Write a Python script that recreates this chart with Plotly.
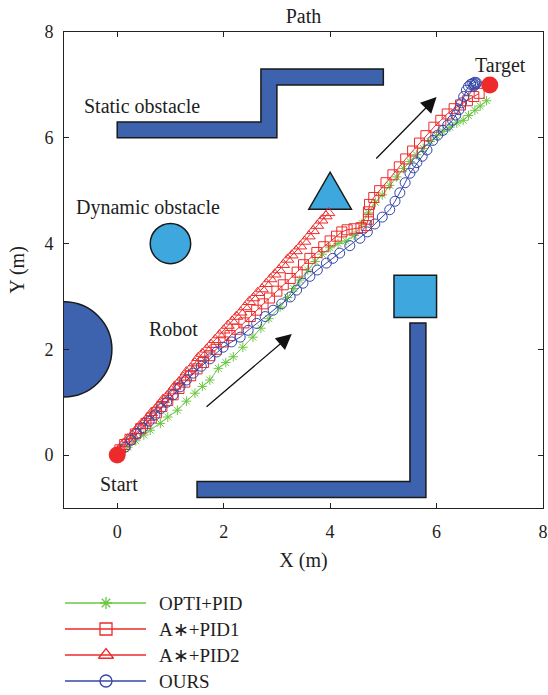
import plotly.graph_objects as go

# ---- trajectories -------------------------------------------------------
opti_x = [0.08, 0.2, 0.35, 0.5, 0.62, 0.81, 0.95, 1.13, 1.3, 1.46, 1.6, 1.74, 1.9,
          2.04, 2.18, 2.36, 2.55, 2.7, 2.85, 3.06, 3.2, 3.32, 3.43, 3.58, 3.72, 3.85,
          4.0, 4.15, 4.3, 4.45, 4.6, 4.72, 4.85, 4.98, 5.12, 5.25, 5.38, 5.5, 5.62,
          5.75, 5.88, 6.0, 6.12, 6.25, 6.38, 6.5, 6.6, 6.72, 6.82, 6.94]
opti_y = [0.05, 0.15, 0.27, 0.38, 0.47, 0.6, 0.72, 0.85, 1.02, 1.17, 1.3, 1.42, 1.64,
          1.75, 1.86, 2.04, 2.23, 2.4, 2.58, 2.8, 2.98, 3.15, 3.31, 3.5, 3.66, 3.8,
          3.92, 4.0, 4.05, 4.15, 4.38, 4.58, 4.78, 4.92, 5.1, 5.26, 5.42, 5.55, 5.68,
          5.8, 5.93, 6.04, 6.12, 6.2, 6.28, 6.33, 6.42, 6.52, 6.6, 6.7]

pid1_x = [0.05, 0.14, 0.24, 0.34, 0.44, 0.54, 0.64, 0.74, 0.84, 0.95, 1.05, 1.16,
          1.27, 1.38, 1.5, 1.62, 1.74, 1.86, 2.0, 2.12, 2.25, 2.38, 2.5, 2.62, 2.74,
          2.86, 3.0, 3.12, 3.25, 3.38, 3.5, 3.62, 3.75, 3.88, 4.0, 4.12, 4.22, 4.32,
          4.45, 4.58, 4.68, 4.72, 4.72, 4.74, 4.82, 4.93, 5.05, 5.18, 5.3, 5.42, 5.55,
          5.68, 5.8, 5.95, 6.08, 6.2, 6.33, 6.45, 6.58, 6.7, 6.8]
pid1_y = [0.1, 0.2, 0.3, 0.4, 0.5, 0.6, 0.7, 0.8, 0.92, 1.03, 1.14, 1.26, 1.38,
          1.5, 1.63, 1.75, 1.88, 2.0, 2.14, 2.26, 2.38, 2.5, 2.62, 2.74, 2.86,
          2.97, 3.1, 3.22, 3.34, 3.46, 3.6, 3.72, 3.83, 3.94, 4.05, 4.14, 4.22, 4.26,
          4.28, 4.3, 4.34, 4.46, 4.6, 4.74, 4.87, 5.0, 5.15, 5.3, 5.45, 5.6, 5.75,
          5.9, 6.04, 6.2, 6.33, 6.45, 6.55, 6.62, 6.7, 6.78, 6.84]

pid2_x = [0.05, 0.12, 0.2, 0.28, 0.35, 0.42, 0.5, 0.58, 0.64, 0.72, 0.8, 0.86, 0.94,
          1.02, 1.08, 1.16, 1.24, 1.3, 1.38, 1.46, 1.52, 1.6, 1.68, 1.76, 1.84, 1.92,
          2.0, 2.08, 2.16, 2.24, 2.32, 2.4, 2.48, 2.56, 2.64, 2.72, 2.8, 2.88, 2.96,
          3.04, 3.12, 3.2, 3.28, 3.36, 3.44, 3.52, 3.6, 3.68, 3.76, 3.84, 3.92, 3.97]
pid2_y = [0.12, 0.22, 0.3, 0.37, 0.46, 0.55, 0.62, 0.71, 0.8, 0.87, 0.96, 1.05, 1.12,
          1.21, 1.3, 1.38, 1.47, 1.57, 1.64, 1.74, 1.84, 1.92, 2.0, 2.09, 2.18, 2.27,
          2.36, 2.45, 2.53, 2.62, 2.7, 2.8, 2.9, 2.97, 3.07, 3.14, 3.24, 3.33, 3.42,
          3.5, 3.6, 3.7, 3.78, 3.86, 3.95, 4.04, 4.14, 4.24, 4.34, 4.44, 4.52, 4.58]

ours_x = [0.15, 0.26, 0.37, 0.48, 0.6, 0.71, 0.82, 0.93, 1.05, 1.18, 1.3, 1.43, 1.58,
          1.74, 1.87, 1.99, 2.15, 2.31, 2.46, 2.62, 2.78, 2.93, 3.09, 3.25, 3.37, 3.49,
          3.62, 3.76, 3.93, 4.05, 4.18, 4.37, 4.56, 4.7, 4.84, 4.98, 5.12, 5.22, 5.31,
          5.41, 5.5, 5.57, 5.63, 5.73, 5.82, 5.93, 6.02, 6.12, 6.21, 6.3, 6.36, 6.42,
          6.47, 6.51, 6.56, 6.6, 6.64, 6.68, 6.72, 6.75, 6.72, 6.7, 6.74]
ours_y = [0.15, 0.28, 0.41, 0.52, 0.64, 0.76, 0.88, 1.0, 1.14, 1.29, 1.42, 1.55, 1.68,
          1.82, 1.95, 2.04, 2.14, 2.23, 2.36, 2.49, 2.62, 2.74, 2.86, 2.99, 3.12, 3.25,
          3.38, 3.5, 3.63, 3.72, 3.82, 3.96, 4.1, 4.22, 4.37, 4.5, 4.64, 4.8, 4.96,
          5.15, 5.33, 5.43, 5.53, 5.65, 5.77, 5.95, 6.05, 6.14, 6.24, 6.33, 6.43, 6.53,
          6.66, 6.78, 6.9, 6.97, 7.01, 7.03, 7.05, 7.04, 7.0, 6.98, 7.02]

series_names = ["OPTI+PID", "A\u2217+PID1", "A\u2217+PID2", "OURS"]
series_x = [opti_x, pid1_x, pid2_x, ours_x]
series_y = [opti_y, pid1_y, pid2_y, ours_y]
series_colors = ["#6CC644", "#EE2A2A", "#EE2A2A", "#3446A8"]
series_symbols = ["asterisk-open", "square-open", "triangle-up-open", "circle-open"]
series_sizes = [8, 10, 11, 10]

# ---- environment --------------------------------------------------------
start_pt = (0, 0)
target_pt = (7, 7)
static_z = [(0, 6.0), (3.0, 6.0), (3.0, 7.0), (5.0, 7.0), (5.0, 7.3), (2.7, 7.3),
            (2.7, 6.3), (0, 6.3)]
static_l = [(1.5, -0.8), (5.8, -0.8), (5.8, 2.5), (5.5, 2.5), (5.5, -0.5), (1.5, -0.5)]
dyn_triangle = [(3.6, 4.65), (4.4, 4.65), (4.0, 5.35)]
dyn_square = [(5.2, 2.6), (6.0, 2.6), (6.0, 3.4), (5.2, 3.4)]
dyn_circle = (1.0, 4.0, 0.38)
robot_circle = (-1.0, 2.0, 0.9)

axis_ticks = [0, 2, 4, 6, 8]

DARK = "#3D62AE"
LIGHT = "#3EA7DD"
FONT = "Liberation Serif"
INK = "#1E1E1E"


def poly_path(pts):
    return "M " + " L ".join(f"{x},{y}" for x, y in pts) + " Z"


fig = go.Figure()

for name, xs, ys, col, sym, sz in zip(series_names, series_x, series_y,
                                       series_colors, series_symbols, series_sizes):
    fig.add_trace(go.Scatter(
        x=xs, y=ys, mode="lines+markers", name=name, showlegend=False,
        line=dict(color=col, width=1),
        marker=dict(symbol=sym, size=sz, color=col, line=dict(color=col, width=1)),
        xaxis="x", yaxis="y"))

fig.add_trace(go.Scatter(
    x=[start_pt[0], target_pt[0]], y=[start_pt[1], target_pt[1]], mode="markers",
    showlegend=False, marker=dict(size=17, color="#EE2A2A"), cliponaxis=False,
    xaxis="x", yaxis="y"))

shapes = []
for pts, col in [(static_z, DARK), (static_l, DARK), (dyn_triangle, LIGHT),
                 (dyn_square, LIGHT)]:
    shapes.append(dict(type="path", path=poly_path(pts), xref="x", yref="y",
                       fillcolor=col, line=dict(color="#1A1A1A", width=1.5),
                       layer="below"))
for (cx, cy, r), col in [(dyn_circle, LIGHT), (robot_circle, DARK)]:
    shapes.append(dict(type="circle", xref="x", yref="y", x0=cx - r, x1=cx + r,
                       y0=cy - r, y1=cy + r, fillcolor=col,
                       line=dict(color="#1A1A1A", width=1.5), layer="below"))

annotations = []
labels = [("Static obstacle", 0.47, 6.6), ("Dynamic obstacle", 0.58, 4.69),
          ("Robot", 1.05, 2.38), ("Start", 0.04, -0.55), ("Target", 7.2, 7.37)]
for txt, x, y in labels:
    annotations.append(dict(text=txt, x=x, y=y, xref="x", yref="y", showarrow=False,
                            font=dict(family=FONT, size=20, color=INK)))

arrows = [((1.65, 0.89), (3.28, 2.29)), ((4.84, 5.58), (6.0, 6.77))]
for (x0, y0), (x1, y1) in arrows:
    annotations.append(dict(x=x1, y=y1, ax=x0, ay=y0, xref="x", yref="y",
                            axref="x", ayref="y", text="", showarrow=True,
                            arrowhead=2, arrowsize=2.4, arrowwidth=1.3,
                            arrowcolor="#111"))

# ---- legend drawn on its own hidden axes ----------------------------------
for i, (name, col, sym, sz) in enumerate(zip(series_names, series_colors,
                                             series_symbols, series_sizes)):
    row = -i
    fig.add_trace(go.Scatter(x=[65, 146], y=[row, row], mode="lines",
                             line=dict(color=col, width=1.3), showlegend=False,
                             xaxis="x2", yaxis="y2", hoverinfo="skip"))
    fig.add_trace(go.Scatter(x=[106], y=[row], mode="markers", showlegend=False,
                             marker=dict(symbol=sym, size=sz + 2, color=col,
                                         line=dict(color=col, width=1.3)),
                             cliponaxis=False, xaxis="x2", yaxis="y2"))
    annotations.append(dict(text=name, x=157, y=row, xref="x2", yref="y2",
                            xanchor="left", yanchor="middle", showarrow=False,
                            font=dict(family=FONT, size=19, color=INK)))

axis_common = dict(range=[-1, 8], tickvals=axis_ticks, ticks="inside", ticklen=5,
                   tickcolor="#222", showline=True, linecolor="#222", linewidth=1,
                   mirror="allticks", showgrid=False, zeroline=False,
                   tickfont=dict(family=FONT, size=18, color=INK))

fig.update_layout(
    width=548, height=695,
    margin=dict(l=64, r=5, t=32, b=0),
    paper_bgcolor="white", plot_bgcolor="white",
    title=dict(text="Path", x=0.5, xref="paper", y=1 - 16 / 695, yanchor="middle",
               font=dict(family=FONT, size=20, color=INK)),
    xaxis=dict(**axis_common, domain=[0, 1], ticklabelstandoff=7,
               title=dict(text="X (m)", standoff=12,
                          font=dict(family=FONT, size=20, color=INK))),
    yaxis=dict(**axis_common, domain=[187 / 663, 1], ticklabelstandoff=6,
               title=dict(text="Y (m)", standoff=14,
                          font=dict(family=FONT, size=20, color=INK))),
    xaxis2=dict(domain=[0, 1], range=[64, 543], visible=False, anchor="y2"),
    yaxis2=dict(domain=[0, 179 / 663], range=[-3.538, 3.346], visible=False,
                anchor="x2"),
    shapes=shapes, annotations=annotations, showlegend=False,
)

fig.write_html("out.html")
